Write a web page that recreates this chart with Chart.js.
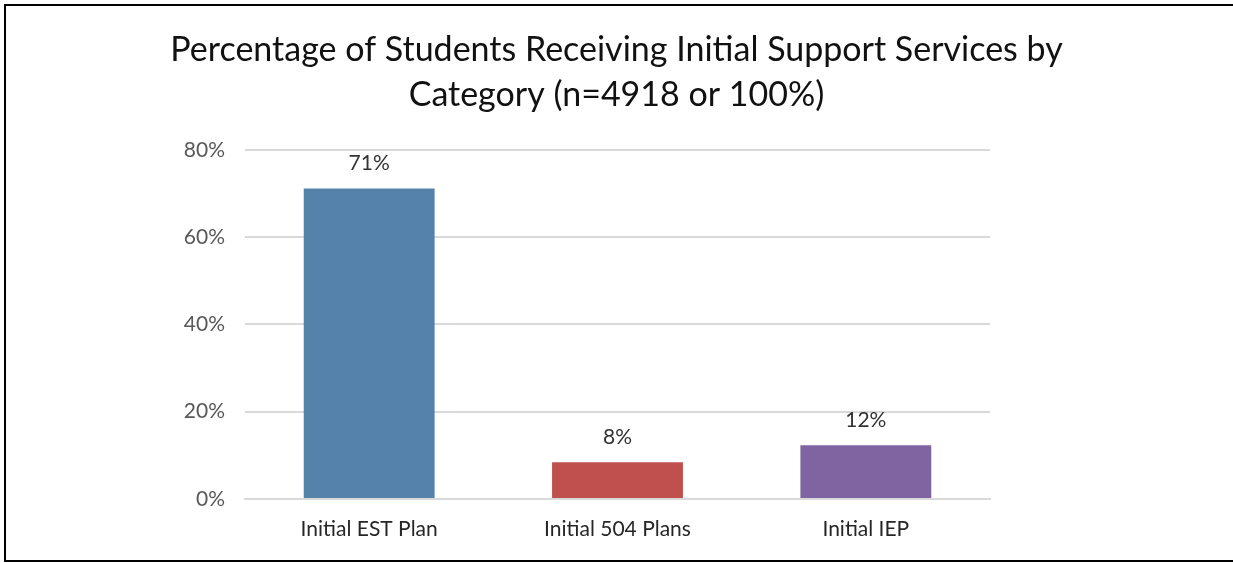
<!DOCTYPE html>
<html>
<head>
<meta charset="utf-8">
<script src="https://cdn.jsdelivr.net/npm/chart.js@4/dist/chart.umd.min.js"></script>
<style>
  html, body { margin: 0; padding: 0; background: #fff; }
  #wrap { position: relative; width: 1233px; height: 563px; }
</style>
</head>
<body>
<div id="wrap"><canvas id="c" width="1233" height="563"></canvas></div>
<script>
const categories = ["Initial EST Plan", "Initial 504 Plans", "Initial IEP"];
const percentValues = [71.1, 8.4, 12.3];
const barLabels = ["71%", "8%", "12%"];
const barColors = ["#5482AB", "#C0504D", "#8064A2"];
const yTicks = [0, 20, 40, 60, 80];
const titleLines = ["Percentage of Students Receiving Initial Support Services by", "Category (n=4918 or 100%)"];

const FONT = "Lato, 'Open Sans', sans-serif";

const framePlugin = {
  id: 'frame',
  afterDraw(chart) {
    const ctx = chart.ctx;
    ctx.save();
    ctx.strokeStyle = '#000';
    ctx.lineWidth = 2;
    ctx.beginPath();
    ctx.moveTo(1240, 5);
    ctx.lineTo(5, 5);
    ctx.lineTo(5, 561);
    ctx.lineTo(1240, 561);
    ctx.stroke();
    ctx.restore();
  }
};

const dataLabelPlugin = {
  id: 'dataLabels',
  afterDatasetsDraw(chart) {
    const ctx = chart.ctx;
    const meta = chart.getDatasetMeta(0);
    ctx.save();
    ctx.font = "21px " + FONT;
    ctx.fillStyle = '#333333';
    ctx.textAlign = 'center';
    ctx.textBaseline = 'middle';
    meta.data.forEach((bar, i) => {
      const p = bar.getProps(['x', 'y'], true);
      ctx.fillText(barLabels[i], p.x, p.y - 25);
    });
    ctx.restore();
  }
};

new Chart(document.getElementById('c'), {
  type: 'bar',
  data: {
    labels: categories,
    datasets: [{
      data: percentValues,
      backgroundColor: barColors,
      borderWidth: 0,
      categoryPercentage: 1.0,
      barPercentage: 0.527
    }]
  },
  options: {
    responsive: false,
    animation: false,
    layout: { padding: 0 },
    plugins: {
      legend: { display: false },
      tooltip: { enabled: false },
      title: {
        display: true,
        text: titleLines,
        color: '#111',
        font: { family: FONT, size: 34, weight: 'normal', lineHeight: 1.32 },
        padding: { top: 28, bottom: 32 }
      }
    },
    scales: {
      x: {
        grid: { display: false, drawTicks: false },
        border: { display: true, color: '#D9D9D9', width: 2 },
        ticks: { color: '#262626', font: { family: FONT, size: 21 }, padding: 18 },
        afterFit(scale) { scale.height = 64; }
      },
      y: {
        min: 0, max: 80,
        afterBuildTicks(scale) { scale.ticks = yTicks.map(v => ({ value: v })); },
        grid: { color: '#D9D9D9', lineWidth: 2, drawTicks: false },
        border: { display: false },
        ticks: {
          color: '#595959',
          font: { family: FONT, size: 21 },
          padding: 20,
          callback: v => v + '%'
        },
        afterFit(scale) { scale.width = 245; }
      },
      yRight: {
        position: 'right',
        display: true,
        min: 0, max: 80,
        grid: { display: false, drawTicks: false },
        border: { display: false },
        ticks: { display: false },
        afterFit(scale) { scale.width = 243; }
      }
    }
  },
  plugins: [framePlugin, dataLabelPlugin]
});
</script>
</body>
</html>
